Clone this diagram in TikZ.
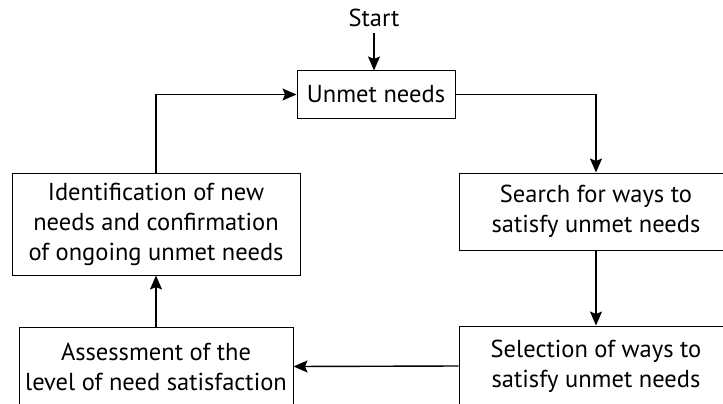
\documentclass[tikz,border=0pt]{standalone}
\usepackage{fontspec}
\setmainfont{PT Sans}
\usetikzlibrary{arrows.meta}
\begin{document}
\begin{tikzpicture}[x=1pt,y=-1pt,
  box/.style={draw, line width=1pt, inner sep=0pt, align=center,
    font=\fontsize{24.5}{30}\selectfont},
  flow/.style={line width=1.4pt, -{Stealth[length=14pt,width=12pt,inset=2.5pt]}}]
  \clip (0,0) rectangle (723,404);
  \node[font=\fontsize{24.5}{30}\selectfont] (start) at (374,18) {Start};
  \node[box, minimum width=158pt, minimum height=47pt] (unmet) at (376,94.5) {Unmet needs};
  \node[box, minimum width=274pt, minimum height=77pt] (search) at (596,211.5)
    {Search for ways to\\satisfy unmet needs};
  \node[box, minimum width=274pt, minimum height=80pt] (select) at (596,366)
    {Selection of ways to\\satisfy unmet needs};
  \node[box, minimum width=274pt, minimum height=79pt] (assess) at (156,366.5)
    {Assessment of the\\level of need satisfaction};
  \node[box, minimum width=288pt, minimum height=102pt] (ident) at (156,224)
    {Identification of new\\needs and confirmation\\of ongoing unmet needs};
  \draw[flow] (374,33) -- (unmet.north -| 374,0);
  \draw[flow] (unmet.east) -| (search.north);
  \draw[flow] (search.south) -- (select.north);
  \draw[flow] (select.west) -- (assess.east);
  \draw[flow] (assess.north) -- (ident.south);
  \draw[flow] (ident.north) |- (unmet.west);
\end{tikzpicture}
\end{document}
